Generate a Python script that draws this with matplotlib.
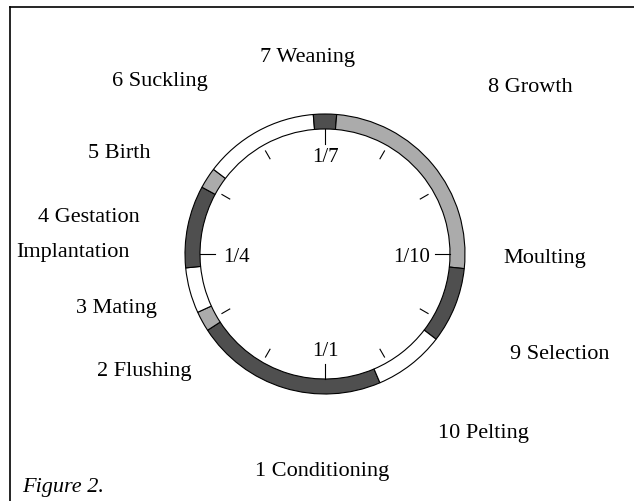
import numpy as np
import matplotlib
matplotlib.use('Agg')
import matplotlib.pyplot as plt
from matplotlib.patches import Wedge
from matplotlib.lines import Line2D

# ring segments, in months after 1 January (clockwise from the bottom)
SEG_START = [-0.77, 1.90, 2.18, 2.81, 3.95, 4.24, 5.84, 6.16, 9.20, 10.25]
SEG_END = [1.90, 2.18, 2.81, 3.95, 4.24, 5.84, 6.16, 9.20, 10.25, 11.23]
SEG_KIND = ['dark', 'light', 'white', 'dark', 'light', 'white', 'dark', 'light', 'dark', 'white']

DATE_MONTHS = [0, 3, 6, 9]
DATE_LABELS = ['1/1', '1/4', '1/7', '1/10']

PHASE_LABELS = ['1 Conditioning', '2 Flushing', '3 Mating', 'Implantation', '4 Gestation',
                '5 Birth', '6 Suckling', '7 Weaning', '8 Growth', 'Moulting',
                '9 Selection', '10 Pelting']

KIND_COLOR = {'dark': '#4f4f4f', 'light': '#ababab', 'white': 'white'}

# layout (pixel coords, y downwards)
CX, CY = 325, 254
R_OUT, R_IN = 140, 125
LABEL_POS = {'1 Conditioning': (255, 476), '2 Flushing': (97, 376), '3 Mating': (76, 313),
             'Implantation': (16, 257), '4 Gestation': (38, 222), '5 Birth': (88, 158),
             '6 Suckling': (112, 86), '7 Weaning': (260, 62), '8 Growth': (488, 92),
             'Moulting': (503, 263), '9 Selection': (510, 359), '10 Pelting': (438, 438)}

plt.rcParams['font.family'] = ['Liberation Serif', 'DejaVu Serif']

fig = plt.figure(figsize=(6.34, 5.01), dpi=100)
ax = fig.add_axes([0, 0, 1, 1])
ax.set_xlim(0, 634)
ax.set_ylim(501, 0)
ax.axis('off')


def ang(m):
    # y axis is inverted, so increasing data angle runs clockwise on screen
    return 90 + 30 * m


for s, e, k in zip(SEG_START, SEG_END, SEG_KIND):
    ax.add_patch(Wedge((CX, CY), R_OUT, ang(s), ang(e), width=R_OUT - R_IN,
                       facecolor=KIND_COLOR[k], edgecolor='black', linewidth=0.8))

# month ticks
for m in range(12):
    t = np.radians(ang(m))
    r0, r1 = (110, R_IN) if m in DATE_MONTHS else (110, 119)
    ax.plot([CX + r0 * np.cos(t), CX + r1 * np.cos(t)],
            [CY + r0 * np.sin(t), CY + r1 * np.sin(t)], color='black', linewidth=0.8)

# date labels inside the ring
for m, lab in zip(DATE_MONTHS, DATE_LABELS):
    t = np.radians(ang(m))
    if m in (0, 6):
        ax.text(CX + 97 * np.cos(t), CY + 97 * np.sin(t), lab, ha='center', va='center',
                fontsize=15)
    else:
        ha = 'left' if m == 3 else 'right'
        r = 102 if m == 3 else 105
        ax.text(CX + r * np.cos(t), CY + 3 + r * np.sin(t), lab, ha=ha, va='center',
                fontsize=15)

for lab in PHASE_LABELS:
    x, y = LABEL_POS[lab]
    ax.text(x, y, lab, ha='left', va='baseline', fontsize=16)

ax.text(22, 492, 'Figure 2.', ha='left', va='baseline', fontsize=16, style='italic')

# frame (left and top edges)
fig.add_artist(Line2D([10 / 634, 10 / 634], [0, 1 - 7 / 501], color='black', linewidth=1.2))
fig.add_artist(Line2D([10 / 634, 1], [1 - 7 / 501, 1 - 7 / 501], color='black', linewidth=1.2))

fig.savefig('out.png', dpi=100)
